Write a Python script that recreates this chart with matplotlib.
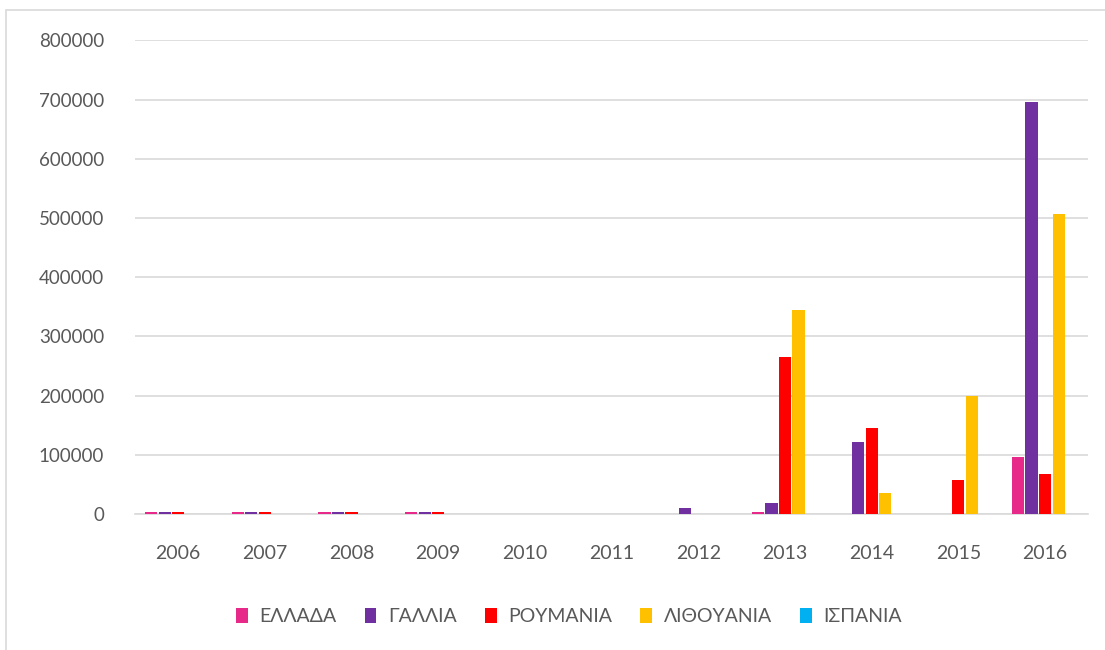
import matplotlib
matplotlib.use("Agg")
import matplotlib.pyplot as plt
from matplotlib.patches import Rectangle
import numpy as np

plt.rcParams['font.family'] = ['Lato', 'DejaVu Sans']

years = ["2006", "2007", "2008", "2009", "2010", "2011", "2012", "2013", "2014", "2015", "2016"]
series_names = ["ΕΛΛΑΔΑ", "ΓΑΛΛΙΑ", "ΡΟΥΜΑΝΙΑ", "ΛΙΘΟΥΑΝΙΑ", "ΙΣΠΑΝΙΑ"]
ellada = [3500, 3500, 3500, 3500, 0, 0, 0, 3000, 0, 0, 97000]
gallia = [3500, 3500, 3500, 3500, 0, 0, 11000, 18000, 122000, 0, 695000]
roumania = [3500, 3500, 3500, 3500, 0, 0, 0, 265000, 146000, 57000, 67000]
lithouania = [0, 0, 0, 0, 0, 0, 0, 345000, 35000, 200000, 507000]
ispania = [0, 0, 0, 0, 0, 0, 0, 0, 0, 0, 0]
colors = ["#E7298A", "#7030A0", "#FF0000", "#FFC000", "#00B0F0"]

data = [ellada, gallia, roumania, lithouania, ispania]

fig = plt.figure(figsize=(11.05, 6.5), dpi=100)
ax = fig.add_axes([0.122, 0.209, 0.863, 0.729])

x = np.arange(len(years))
step = 0.156
width = 0.14
for i, (vals, c, name) in enumerate(zip(data, colors, series_names)):
    ax.bar(x + (i - 2) * step, vals, width=width, color=c, label=name, zorder=3,
           linewidth=0)

ax.set_xlim(-0.5, len(years) - 0.5)
ax.set_ylim(0, 800000)
ax.set_yticks(np.arange(0, 800001, 100000))
ax.set_yticklabels([f"{v}" for v in range(0, 800001, 100000)])
ax.set_xticks(x)
ax.set_xticklabels(years)
ax.grid(axis='y', color='#D9D9D9', linewidth=1.2, zorder=0)
ax.set_axisbelow(True)
for s in ['top', 'right', 'left']:
    ax.spines[s].set_visible(False)
ax.spines['bottom'].set_color('#D9D9D9')
ax.spines['bottom'].set_linewidth(1.2)
ax.spines['bottom'].set_zorder(1)
ax.tick_params(axis='both', length=0, labelsize=13.5, colors='#595959')
ax.tick_params(axis='y', pad=22)
ax.tick_params(axis='x', pad=22)
for lbl in ax.get_xticklabels():
    lbl.set_fontsize(14)

leg = fig.legend(loc='center', bbox_to_anchor=(0.515, 0.051), ncol=5, frameon=False,
                 fontsize=14, handlelength=0.6, handleheight=0.75, columnspacing=1.45,
                 handletextpad=0.6)
for t in leg.get_texts():
    t.set_color('#595959')

fig.patches.append(Rectangle((0.005, -0.01), 1.1, 0.995, transform=fig.transFigure,
                             fill=False, edgecolor='#D9D9D9', linewidth=1.2))

fig.savefig("out.png", dpi=100)
